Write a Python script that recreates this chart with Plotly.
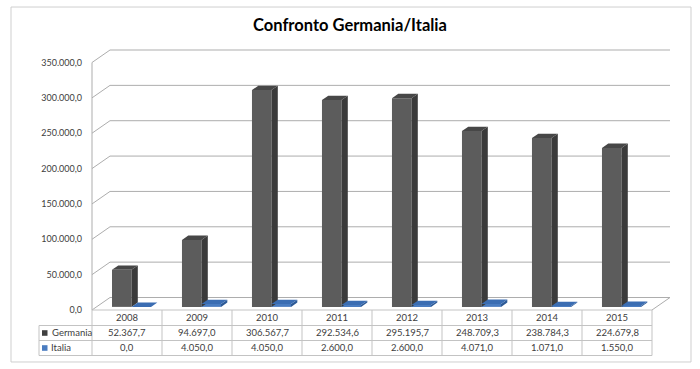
import plotly.graph_objects as go

# ---------------- data ----------------
years = ["2008", "2009", "2010", "2011", "2012", "2013", "2014", "2015"]
germania = [52367.7, 94697.0, 306567.7, 292534.6, 295195.7, 248709.3, 238784.3, 224679.8]
italia = [0.0, 4050.0, 4050.0, 2600.0, 2600.0, 4071.0, 1071.0, 1550.0]
series_names = ["Germania", "Italia"]
y_ticks = [0, 50000, 100000, 150000, 200000, 250000, 300000, 350000]
title_text = "Confronto Germania/Italia"


def fmt_it(v):
    s = f"{v:,.1f}"
    return s.replace(",", "X").replace(".", ",").replace("X", ".")


# ---------------- layout geometry (pixels) ----------------
W, H = 700, 369
X_LEFT = 92          # pixel of category edge -0.5
CAT_W = 70           # pixels per category
DX_PX, DY_PX = 18, 12.5   # 3D depth offset of the floor
Y0 = 310             # pixel of front zero
PXV = 35.36 / 50000  # pixels per value unit
PAD = 3

DX = DX_PX / CAT_W           # depth offset in category units
DY = DY_PX / PXV             # depth offset in value units
ymax_front = y_ticks[-1]

x_range = [-0.5 - PAD / CAT_W, len(years) - 0.5 + (DX_PX + PAD) / CAT_W]
y_range = [-PAD / PXV, ymax_front + (DY_PX + PAD) / PXV]
m_l = X_LEFT - PAD
m_r = W - (X_LEFT + len(years) * CAT_W + DX_PX + PAD)
m_b = H - (Y0 + PAD)
m_t = Y0 - ymax_front * PXV - DY_PX - PAD
plot_w = W - m_l - m_r
plot_h = H - m_t - m_b


def px_x(p):
    return (p - m_l) / plot_w


def px_y(p):
    return (H - m_b - p) / plot_h


# bar geometry (in category units)
BAR_W = 0.279
T0 = 0.25      # depth position of bar front face (fraction of floor depth)
BD = 0.35      # bar depth (fraction of floor depth)
offsets = [-BAR_W + T0 * DX, T0 * DX]
base_v = T0 * DY

front_cols = ["#5c5c5c", "#4a7cc0"]
side_cols = ["#3b3b3b", "#2d5a96"]
top_cols = ["#474747", "#3b6db2"]

fig = go.Figure()
for s, vals in enumerate([germania, italia]):
    fig.add_trace(go.Bar(
        x=list(range(len(years))), y=vals, base=[base_v] * len(vals),
        offset=offsets[s], width=BAR_W, name=series_names[s],
        marker=dict(color=front_cols[s], line=dict(width=0)),
        showlegend=False,
        hovertemplate=series_names[s] + " %{customdata}: %{y:,.1f}<extra></extra>",
        customdata=years,
    ))

shapes = []
grid_col = "#adadad"
# back wall gridlines + left wall diagonals
for v in y_ticks:
    shapes.append(dict(type="line", xref="x", yref="y", layer="below",
                       x0=-0.5 + DX, x1=len(years) - 0.5 + DX, y0=v + DY, y1=v + DY,
                       line=dict(color=grid_col, width=1)))
    shapes.append(dict(type="line", xref="x", yref="y", layer="below",
                       x0=-0.5, x1=-0.5 + DX, y0=v, y1=v + DY,
                       line=dict(color=grid_col, width=1)))
# left wall front edge
shapes.append(dict(type="line", xref="x", yref="y", layer="below",
                   x0=-0.5, x1=-0.5, y0=0, y1=ymax_front,
                   line=dict(color=grid_col, width=1)))
# floor right diagonal
shapes.append(dict(type="line", xref="x", yref="y", layer="below",
                   x0=len(years) - 0.5, x1=len(years) - 0.5 + DX, y0=0, y1=DY,
                   line=dict(color=grid_col, width=1)))

# 3D faces of bars
for s, vals in enumerate([germania, italia]):
    for i, v in enumerate(vals):
        x0 = i + offsets[s]
        x1 = x0 + BAR_W
        b = base_v
        t = b + v
        ddx, ddy = BD * DX, BD * DY
        side = f"M {x1},{b} L {x1 + ddx},{b + ddy} L {x1 + ddx},{t + ddy} L {x1},{t} Z"
        top = f"M {x0},{t} L {x1},{t} L {x1 + ddx},{t + ddy} L {x0 + ddx},{t + ddy} Z"
        shapes.append(dict(type="path", path=side, xref="x", yref="y", layer="above",
                           fillcolor=side_cols[s], line=dict(width=0)))
        shapes.append(dict(type="path", path=top, xref="x", yref="y", layer="above",
                           fillcolor=top_cols[s], line=dict(width=0)))

# ---------------- data table ----------------
tbl_col = "#c3c3c3"
row_lines = [Y0, Y0 + 15.5, Y0 + 30.5, Y0 + 45.5]
n = len(years)
for k, py in enumerate(row_lines):
    shapes.append(dict(type="line", xref="paper", yref="paper",
                       x0=px_x(X_LEFT if k == 0 else 39), x1=px_x(X_LEFT + n * CAT_W),
                       y0=px_y(py), y1=px_y(py), line=dict(color=tbl_col, width=1)))
for k in range(n + 1):
    shapes.append(dict(type="line", xref="x", yref="paper",
                       x0=k - 0.5, x1=k - 0.5, y0=px_y(row_lines[0]), y1=px_y(row_lines[-1]),
                       line=dict(color=tbl_col, width=1)))
shapes.append(dict(type="line", xref="paper", yref="paper",
                   x0=px_x(39), x1=px_x(39), y0=px_y(row_lines[1]), y1=px_y(row_lines[-1]),
                   line=dict(color=tbl_col, width=1)))
# outer frame
shapes.append(dict(type="rect", xref="paper", yref="paper",
                   x0=px_x(11), x1=px_x(691), y0=px_y(7), y1=px_y(362),
                   line=dict(color="#cfcfcf", width=1), fillcolor="rgba(0,0,0,0)", layer="below"))

annotations = []
txt_font = dict(family="Lato, Liberation Sans, sans-serif", size=9.5, color="#404040")
row_centers = [(row_lines[r] + row_lines[r + 1]) / 2 for r in range(3)]
for i, yr in enumerate(years):
    annotations.append(dict(x=i, y=px_y(row_centers[0]), xref="x", yref="paper",
                            text=yr, showarrow=False, font=txt_font, xanchor="center", yanchor="middle"))
    annotations.append(dict(x=i, y=px_y(row_centers[1]), xref="x", yref="paper",
                            text=fmt_it(germania[i]), showarrow=False, font=txt_font,
                            xanchor="center", yanchor="middle"))
    annotations.append(dict(x=i, y=px_y(row_centers[2]), xref="x", yref="paper",
                            text=fmt_it(italia[i]), showarrow=False, font=txt_font,
                            xanchor="center", yanchor="middle"))
legend_cols = ["#404040", "#4a7cc0"]
for r, nm in enumerate(series_names):
    pyc = row_centers[r + 1]
    shapes.append(dict(type="rect", xref="paper", yref="paper",
                       x0=px_x(42), x1=px_x(47.5), y0=px_y(pyc + 2.8), y1=px_y(pyc - 2.8),
                       fillcolor=legend_cols[r], line=dict(width=0)))
    annotations.append(dict(x=px_x(49.5), y=px_y(pyc), xref="paper", yref="paper",
                            text=nm, showarrow=False, font=txt_font,
                            xanchor="left", yanchor="middle"))

fig.update_layout(
    width=W, height=H,
    margin=dict(l=m_l, r=m_r, t=m_t, b=m_b, pad=0),
    paper_bgcolor="white", plot_bgcolor="white",
    barmode="overlay",
    title=dict(text=f"<b>{title_text}</b>", x=0.5, xref="container", xanchor="center",
               y=1 - 25 / H, yref="container", yanchor="middle",
               font=dict(family="Lato, Liberation Sans, sans-serif", size=16.5, color="#000000")),
    xaxis=dict(range=x_range, showgrid=False, zeroline=False, showline=False,
               showticklabels=False, ticks=""),
    yaxis=dict(range=y_range, showgrid=False, zeroline=False, showline=False,
               tickvals=y_ticks, ticktext=[fmt_it(v) for v in y_ticks],
               ticks="", ticklabelstandoff=6,
               tickfont=dict(family="Lato, Liberation Sans, sans-serif", size=9, color="#404040")),
    shapes=shapes, annotations=annotations,
)

fig.write_html("out.html", config={"displayModeBar": False},
               post_script="document.body.style.margin='0px';")
